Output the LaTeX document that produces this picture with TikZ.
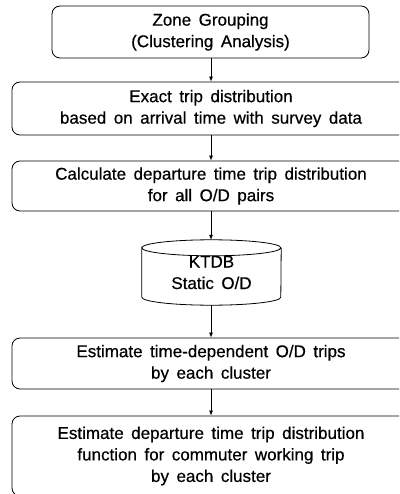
\documentclass[tikz,border=0pt]{standalone}
\usepackage{fontspec}
\setmainfont{Liberation Sans}
\newfontfamily\boxfont{Liberation Sans}[FakeBold=0.5]
\usetikzlibrary{arrows.meta}
\newcommand{\boxtext}{\boxfont\fontsize{17}{21.5}\selectfont\spaceskip=7.5pt plus 1pt\relax}
\begin{document}
\begin{tikzpicture}[x=1pt,y=1pt,
  textbox/.style={align=center, inner sep=0pt, font=\boxtext},
  stepbox/.style={textbox, draw, rounded corners=8pt, line width=0.8pt},
  flow/.style={-{Latex[length=5pt,width=4pt]}, line width=0.7pt}]
\useasboundingbox (0,0) rectangle (399,-494);
\begin{scope}
\clip (0,0) rectangle (399,-494);
\node[stepbox, minimum width=317pt, minimum height=52pt] (b1) at (210.5,-32)
  {Zone Grouping\\(Clustering Analysis)};
\node[stepbox, minimum width=398pt, minimum height=53pt] (b2) at (211,-108.5)
  {Exact trip distribution\\based on arrival time with survey data};
\node[stepbox, minimum width=398pt, minimum height=50pt] (b3) at (211,-186)
  {Calculate departure time trip distribution\\for all O/D pairs};
\node[textbox, minimum width=139pt, minimum height=65pt] (db) at (211.5,-272.5) {KTDB\\Static O/D};
\draw[line width=0.8pt] ([yshift=-8pt]db.north west)
  arc[start angle=180, end angle=-180, x radius=69.5pt, y radius=8pt]
  -- ([yshift=8pt]db.south west)
  arc[start angle=180, end angle=360, x radius=69.5pt, y radius=8pt]
  -- ([yshift=-8pt]db.north east);
\node[stepbox, minimum width=398pt, minimum height=51pt] (b4) at (211,-363.5)
  {Estimate time-dependent O/D trips\\by each cluster};
\node[stepbox, minimum width=398pt, minimum height=80pt] (b5) at (211,-456)
  {Estimate departure time trip distribution\\function for commuter working trip\\by each cluster};
\end{scope}
\draw[flow] (b1.south -| 211,0) -- (b2.north -| 211,0);
\draw[flow] (b2.south -| 211,0) -- (b3.north -| 211,0);
\draw[flow] (b3.south -| 211,0) -- (db.north -| 211,0);
\draw[flow] (db.south -| 211,0) -- (b4.north -| 211,0);
\draw[flow] (b4.south -| 211,0) -- (b5.north -| 211,0);
\end{tikzpicture}
\end{document}
